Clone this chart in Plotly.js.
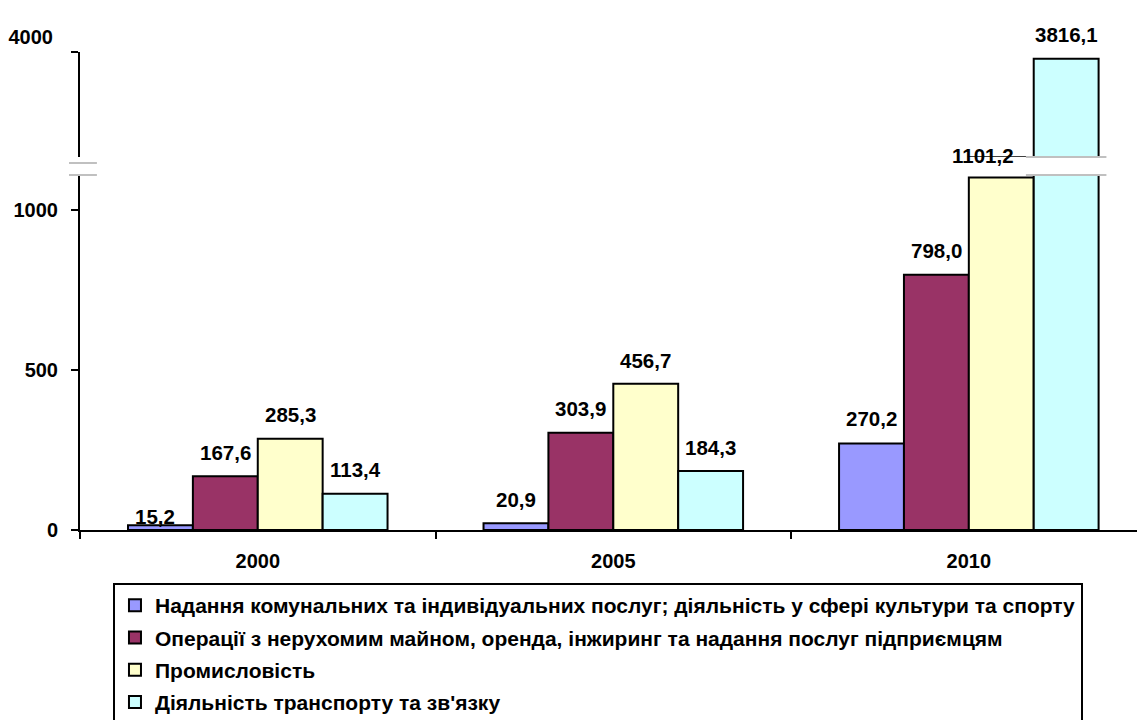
<!DOCTYPE html>
<html>
<head>
<meta charset="utf-8">
<script src="https://cdn.plot.ly/plotly-3.0.1.min.js"></script>
<style>html,body{margin:0;padding:0;background:#fff;}#chart{width:1137px;height:720px;}</style>
</head>
<body>
<div id="chart"></div>
<script>
// ---- data ----
const years = ['2000', '2005', '2010'];
const seriesNames = [
  'Надання комунальних та індивідуальних послуг; діяльність у сфері культури та спорту',
  'Операції з нерухомим майном, оренда, інжиринг та надання послуг підприємцям',
  'Промисловість',
  'Діяльність транспорту та зв\'язку'
];
const communal = [15.2, 20.9, 270.2];
const realEstate = [167.6, 303.9, 798.0];
const industry = [285.3, 456.7, 1101.2];
const transport = [113.4, 184.3, 3816.1];
const lowerTicks = [0, 500, 1000];
const upperTicks = [4000];

// ---- style ----
const colors = ['#9999FF', '#993366', '#FFFFCC', '#CCFFFF'];
const FONT = 'Liberation Sans';
const bargap = 0.27;
const lowerMax = 1109.4;
const upperMin = 1109.4;
const upperMax = 4000;
const lowerTop = 0.7427;
const upperBottom = 0.7803;
// per-label pixel nudges [series][year]
const labelDy = [[9, 24, 25], [24, 24, 24], [24, 23, 22], [24, 24, 24]];
const labelDx = [[-5, 0, 0], [0, 0, 0], [0, 0, -18], [0, 0, 0]];
const b = s => '<b>' + s + '</b>';

const series = [communal, realEstate, industry, transport];
const traces = [];
series.forEach((vals, j) => {
  const common = {
    type: 'bar', x: years, y: vals, xaxis: 'x',
    marker: {color: colors[j], line: {color: '#000', width: 2}},
    hoverinfo: 'x+y+name', name: b(seriesNames[j]), legendgroup: 'g' + j
  };
  traces.push(Object.assign({}, common, {yaxis: 'y', showlegend: true}));
  traces.push(Object.assign({}, common, {yaxis: 'y2', showlegend: false}));
});

const groupW = 1 - bargap;
const barW = groupW / series.length;
const annotations = [];
series.forEach((vals, j) => {
  vals.forEach((v, i) => {
    const xc = i - groupW / 2 + barW * (j + 0.5);
    annotations.push({
      x: xc, y: v, xref: 'x', yref: v > lowerMax ? 'y2' : 'y',
      text: b(v.toFixed(1).replace('.', ',')), showarrow: false,
      xanchor: 'center', yanchor: 'middle',
      xshift: labelDx[j][i], yshift: labelDy[j][i],
      font: {family: FONT, size: 20.5, color: '#000'}
    });
  });
});

// break marks
const cyanCenter = 2 - groupW / 2 + barW * 3.5;
const grey = {color: '#c0c0c0', width: 2};
const shapes = [
  {type: 'line', xref: 'paper', yref: 'paper', x0: -0.0104, x1: 0.016, y0: 0.7678, y1: 0.7678, line: grey},
  {type: 'line', xref: 'paper', yref: 'paper', x0: -0.0104, x1: 0.016, y0: lowerTop, y1: lowerTop, line: grey},
  {type: 'line', xref: 'x', yref: 'paper', x0: cyanCenter - barW / 2 - 0.022, x1: cyanCenter + barW / 2 + 0.022, y0: lowerTop, y1: lowerTop, line: grey},
  {type: 'line', xref: 'x', yref: 'paper', x0: cyanCenter - barW / 2 - 0.022, x1: cyanCenter + barW / 2 + 0.022, y0: upperBottom, y1: upperBottom, line: grey}
];

const tickFont = {family: FONT, size: 20, color: '#000'};
const layout = {
  width: 1137, height: 720,
  margin: {l: 80, r: 0, t: 52, b: 190, pad: 0},
  paper_bgcolor: '#fff', plot_bgcolor: 'rgba(0,0,0,0)',
  font: {family: FONT, color: '#000'},
  barmode: 'group', bargap: bargap, bargroupgap: 0,
  showlegend: true,
  xaxis: {
    type: 'category', range: [-0.5, 2.473], anchor: 'y',
    tickvals: years, ticktext: years.map(b),
    showline: true, linecolor: '#000', linewidth: 2,
    ticks: 'outside', tickson: 'boundaries', ticklen: 7, tickwidth: 2, tickcolor: '#000',
    showgrid: false, zeroline: false, tickfont: tickFont, ticklabelstandoff: 12,
    fixedrange: true
  },
  yaxis: {
    domain: [0, lowerTop], range: [0, lowerMax], anchor: 'x',
    tickvals: lowerTicks, ticktext: lowerTicks.map(v => b(String(v))),
    showline: true, linecolor: '#000', linewidth: 2,
    ticks: 'outside', ticklen: 7, tickwidth: 2, tickcolor: '#000',
    showgrid: false, zeroline: false, tickfont: tickFont, ticklabelstandoff: 9,
    fixedrange: true
  },
  yaxis2: {
    domain: [upperBottom, 1], range: [upperMin, upperMax], anchor: 'x',
    tickvals: upperTicks, ticktext: upperTicks.map(v => b(String(v))),
    showline: true, linecolor: '#000', linewidth: 2,
    ticks: 'outside', ticklen: 7, tickwidth: 2, tickcolor: '#000',
    showgrid: false, zeroline: false, tickfont: tickFont,
    ticklabelstandoff: 14, ticklabelshift: -15,
    fixedrange: true
  },
  legend: {
    x: 0.0312, xanchor: 'left', yref: 'container', y: 0.1903, yanchor: 'top',
    orientation: 'v', bgcolor: '#fff', bordercolor: '#000', borderwidth: 2,
    font: {family: FONT, size: 21, color: '#000'},
    tracegroupgap: 2, traceorder: 'grouped'
  },
  annotations: annotations,
  shapes: shapes
};

Plotly.newPlot('chart', traces, layout, {displayModeBar: false, staticPlot: true});
</script>
</body>
</html>
